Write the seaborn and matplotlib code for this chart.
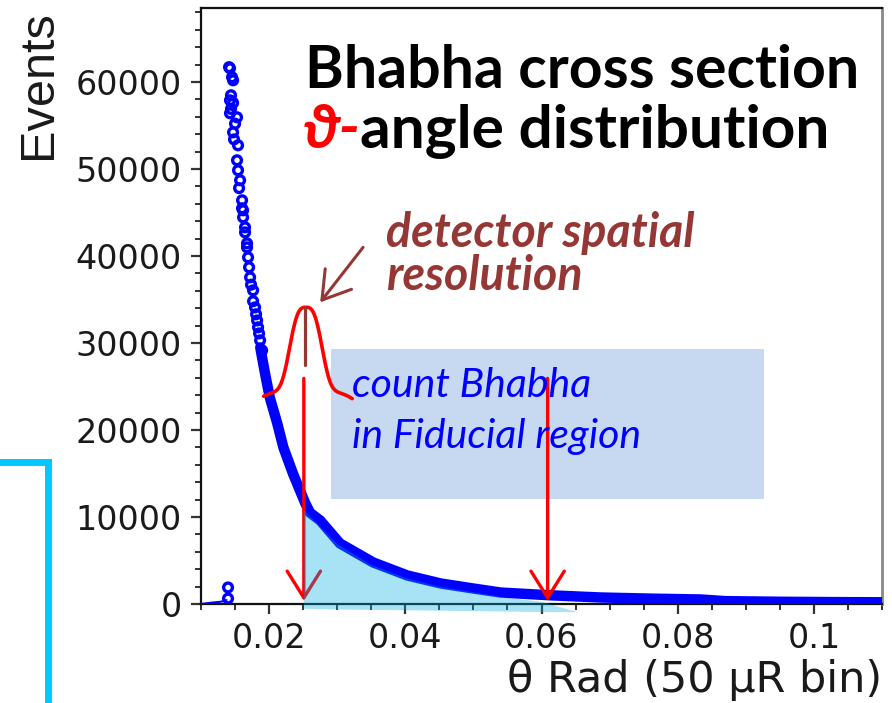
import numpy as np
import pandas as pd
import matplotlib
matplotlib.use("Agg")
import matplotlib.pyplot as plt
import seaborn as sns
from matplotlib.ticker import FixedLocator, MultipleLocator, FixedFormatter
from matplotlib.patches import Rectangle, Polygon
from matplotlib.lines import Line2D

# ---------------- data ----------------
theta_low = [0.0100, 0.0115, 0.0128, 0.0134, 0.01375]
events_low = [0, 150, 250, 350, 450]

theta_top = [0.01397, 0.01397,
             0.01412, 0.01426, 0.01456, 0.01471, 0.01441, 0.01426, 0.01471,
             0.01441, 0.01426, 0.01529, 0.01500, 0.01471, 0.01485, 0.01544,
             0.01529, 0.01544, 0.01574, 0.01559, 0.01603, 0.01603, 0.01618,
             0.01618, 0.01647, 0.01647, 0.01676, 0.01676, 0.01691, 0.01706,
             0.01721, 0.01735, 0.01765, 0.01765, 0.01794, 0.01809, 0.01824,
             0.01838, 0.01853, 0.01868, 0.01897]
events_top = [630, 1900,
              61700, 61570, 60540, 60190, 58470, 57890, 57600,
              56900, 56400, 55940, 55200, 54210, 53400, 52720,
              51000, 49850, 48700, 47800, 46400, 45480, 45250,
              44440, 43290, 42710, 41450, 40990, 39840, 38700,
              37540, 36700, 36050, 34800, 34090, 33300, 32590,
              31800, 31100, 30300, 29140]

theta_band = [0.0187, 0.0194, 0.0201, 0.0212, 0.0221, 0.0235, 0.0253, 0.0260,
              0.0275, 0.0304, 0.0353, 0.0403, 0.0452, 0.0500, 0.0540, 0.0613,
              0.0687, 0.0760, 0.0834, 0.0870, 0.0950, 0.1030, 0.1100]
events_band = [29490, 26500, 23740, 20750, 17990, 15000, 11600, 10500,
               9600, 6960, 4770, 3280, 2360, 1780, 1320, 1000,
               750, 620, 520, 330, 260, 220, 200]

xticks = [0.02, 0.04, 0.06, 0.08, 0.1]
xtick_labels = ["0.02", "0.04", "0.06", "0.08", "0.1"]
yticks = [0, 10000, 20000, 30000, 40000, 50000, 60000]
ytick_labels = ["0", "10000", "20000", "30000", "40000", "50000", "60000"]

# annotation shapes (illustrative overlays)
fill_theta = [0.0251, 0.0270, 0.0300, 0.0350, 0.0400, 0.0450, 0.0500, 0.0550, 0.0600, 0.0653]
fill_top = [10800, 9300, 6900, 4500, 3000, 2000, 1350, 700, 250, -950]
fill_bottom = [-550, -590, -630, -680, -720, -770, -820, -870, -920, -950]

# ---------------- figure ----------------
sns.set_theme(style="ticks")
plt.rcParams["font.family"] = ["DejaVu Sans"]

W, H = 892, 703
fig = plt.figure(figsize=(W / 100, H / 100), dpi=100)
ax = fig.add_axes([201 / W, 1 - 604 / H, 681 / W, 596 / H])

def fpx(x, y):
    return x / W, 1 - y / H

df_low = pd.DataFrame({"theta": theta_low, "events": events_low})
df_top = pd.DataFrame({"theta": theta_top, "events": events_top})
df_band = pd.DataFrame({"theta": theta_band, "events": events_band})

blue = "#0000ff"
sns.lineplot(data=df_low, x="theta", y="events", ax=ax, color=blue, lw=1.5, zorder=3)
sns.lineplot(data=df_band, x="theta", y="events", ax=ax, color=blue, lw=7.5,
             solid_capstyle="round", solid_joinstyle="round", zorder=3)
sns.scatterplot(data=df_top, x="theta", y="events", ax=ax, marker="o", s=40,
                facecolor="none", edgecolor=blue, linewidth=2.4, zorder=4)

ax.set_xlim(0.01, 0.11)
ax.set_ylim(0, 68500)

# light blue box with text
ax.add_patch(Rectangle((0.02912, 12020), 0.06353, 17240, facecolor="#C6D9F1",
                       edgecolor="none", zorder=2))

# red resolution curve
gx = np.linspace(0.0192, 0.0322, 300)
dx = gx - 0.0254
gy = 24500 - 800 * (dx / 0.0066) ** 4 + 9600 * np.exp(-0.5 * np.abs(dx / 0.00218) ** 3)
ax.plot(gx, gy, color="#ff0000", lw=2.6, zorder=6, solid_capstyle="round")

brown = "#953735"
ax.plot([0.0252, 0.0252], [34000, 27430], color=brown, lw=2.3, zorder=6)

arrow_kw = dict(arrowstyle="->,head_length=0.8,head_width=0.5", lw=2.4,
                shrinkA=0, shrinkB=0, mutation_scale=24)
ax.annotate("", xy=(0.0251, 350), xytext=(0.0251, 25930),
            arrowprops=dict(color="#ff0000", **arrow_kw), zorder=6)
ax.annotate("", xy=(0.0609, 350), xytext=(0.0609, 25930),
            arrowprops=dict(color="#ff0000", **arrow_kw), zorder=6)
ax.annotate("", xy=(0.0275, 34670), xytext=(0.0338, 40990),
            arrowprops=dict(color=brown, arrowstyle="->,head_length=0.8,head_width=0.5",
                            lw=2.2, shrinkA=0, shrinkB=0, mutation_scale=24), zorder=6)

# semi-transparent fiducial fill
poly = list(zip(fill_theta, fill_top)) + list(zip(fill_theta[::-1], fill_bottom[::-1]))
ax.add_patch(Polygon(poly, closed=True, facecolor="#00AAE2", edgecolor="none",
                     alpha=0.34, zorder=7, clip_on=False))

# ---------------- axes styling ----------------
for side in ["left", "bottom", "top"]:
    ax.spines[side].set_color("#111111")
    ax.spines[side].set_linewidth(1.6)
ax.spines["right"].set_color("#888888")
ax.spines["right"].set_linewidth(2.0)

ax.xaxis.set_major_locator(FixedLocator(xticks))
ax.xaxis.set_major_formatter(FixedFormatter(xtick_labels))
ax.xaxis.set_minor_locator(MultipleLocator(0.005))
ax.yaxis.set_major_locator(FixedLocator(yticks))
ax.yaxis.set_major_formatter(FixedFormatter(ytick_labels))
ax.yaxis.set_minor_locator(MultipleLocator(2000))

ax.tick_params(axis="both", which="major", direction="out", length=7, width=1.6,
               color="#333333", labelsize=24, labelcolor="#1a1a1a")
ax.tick_params(axis="both", which="minor", direction="out", length=4, width=1.4,
               color="#333333")
ax.tick_params(axis="x", which="major", pad=6)
ax.tick_params(axis="y", which="major", pad=7)
ax.tick_params(top=False, right=False, which="both")

ax.set_xlabel("θ Rad (50 μR bin)", fontsize=31, color="#1a1a1a", loc="right")
ax.xaxis.set_label_coords(1.0, -0.148)
ax.xaxis.label.set_va("baseline")
ax.set_ylabel("Events", fontsize=35, family=["Liberation Sans"], color="#1a1a1a",
              loc="top")
ax.yaxis.set_label_coords(-0.205, 0.997)

# ---------------- texts ----------------
fig.text(*fpx(305, 88), "Bhabha cross section", fontsize=42.5, fontweight="bold",
         family=["Lato", "DejaVu Sans"], color="black", va="baseline", ha="left")
fig.text(*fpx(303, 148), "ϑ-", fontsize=44, fontweight="bold", style="italic",
         family=["Lato", "DejaVu Sans"], color="#ff0000", va="baseline", ha="left")
fig.text(*fpx(360, 148), "angle distribution", fontsize=43.5, fontweight="bold",
         family=["Lato", "DejaVu Sans"], color="black", va="baseline", ha="left")

fig.text(*fpx(386, 247), "detector spatial", fontsize=33.5, fontweight="bold",
         style="italic", family=["Lato"], color=brown, va="baseline", ha="left")
fig.text(*fpx(386, 290), "resolution", fontsize=33.5, fontweight="bold",
         style="italic", family=["Lato"], color=brown, va="baseline", ha="left")

fig.text(*fpx(352, 397), "count Bhabha", fontsize=29.5, style="italic",
         family=["Lato"], color=blue, va="baseline", ha="left", zorder=5)
fig.text(*fpx(352, 448), "in Fiducial region", fontsize=29.5, style="italic",
         family=["Lato"], color=blue, va="baseline", ha="left", zorder=5)

# cyan bracket on the left
cyan = "#00C8FF"
fig.add_artist(Line2D([0, 48 / W], [1 - 462 / H, 1 - 462 / H], color=cyan, lw=5,
                      solid_capstyle="projecting"))
fig.add_artist(Line2D([48 / W, 48 / W], [1 - 462 / H, 0], color=cyan, lw=5,
                      solid_capstyle="projecting"))

fig.savefig("out.png", dpi=100)
